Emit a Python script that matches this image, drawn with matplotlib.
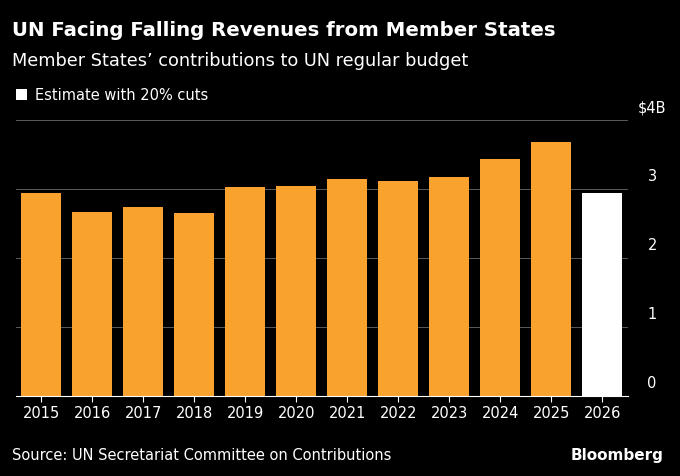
import matplotlib
matplotlib.use('Agg')
import matplotlib.pyplot as plt

years = ['2015', '2016', '2017', '2018', '2019', '2020', '2021', '2022', '2023', '2024', '2025', '2026']
values = [2.94, 2.67, 2.74, 2.65, 3.03, 3.04, 3.14, 3.12, 3.17, 3.43, 3.68, 2.94]
estimate = [False] * 11 + [True]
yticks = [0, 1, 2, 3, 4]
ylabels = ['0', '1', '2', '3', '$4B']

bg = 'black'
orange = '#f9a22d'

fig = plt.figure(figsize=(6.8, 4.76), dpi=100, facecolor=bg)
ax = fig.add_axes([0.023, 0.168, 0.9, 0.58], facecolor=bg)

colors = ['white' if e else orange for e in estimate]
ax.bar(range(len(years)), values, width=0.78, color=colors, zorder=2)

ax.set_xlim(-0.5, len(years) - 0.5)
ax.set_ylim(0, 4)
ax.set_yticks(yticks)
ax.set_yticklabels([])
for t, lab in zip(yticks, ylabels):
    ax.text(1.04, t + 0.07, lab, transform=ax.get_yaxis_transform(), color='white',
            fontsize=10.5, ha='center', va='bottom')
ax.grid(axis='y', color='#5a5a5a', linewidth=0.7, zorder=0)
ax.tick_params(axis='y', length=0)
ax.set_xticks(range(len(years)))
ax.set_xticklabels(years, color='white', fontsize=10.5)
ax.tick_params(axis='x', length=4, color='white', pad=3)
for s in ['top', 'right', 'left']:
    ax.spines[s].set_visible(False)
ax.spines['bottom'].set_color('white')
ax.spines['bottom'].set_bounds(-0.5, len(years) - 0.5)

fig.text(0.017, 0.925, 'UN Facing Falling Revenues from Member States', color='white',
         fontsize=14.2, fontweight='bold')
fig.text(0.017, 0.862, 'Member States\u2019 contributions to UN regular budget', color='white',
         fontsize=12.8)
fig.patches.append(plt.Rectangle((0.024, 0.79), 0.016, 0.023, transform=fig.transFigure,
                                 facecolor='white'))
fig.text(0.052, 0.789, 'Estimate with 20% cuts', color='white', fontsize=10.5)
fig.text(0.017, 0.033, 'Source: UN Secretariat Committee on Contributions', color='white',
         fontsize=10.5)
fig.text(0.975, 0.033, 'Bloomberg', color='white', fontsize=11, fontweight='bold', ha='right')

fig.savefig('out.png', dpi=100, facecolor=bg)
